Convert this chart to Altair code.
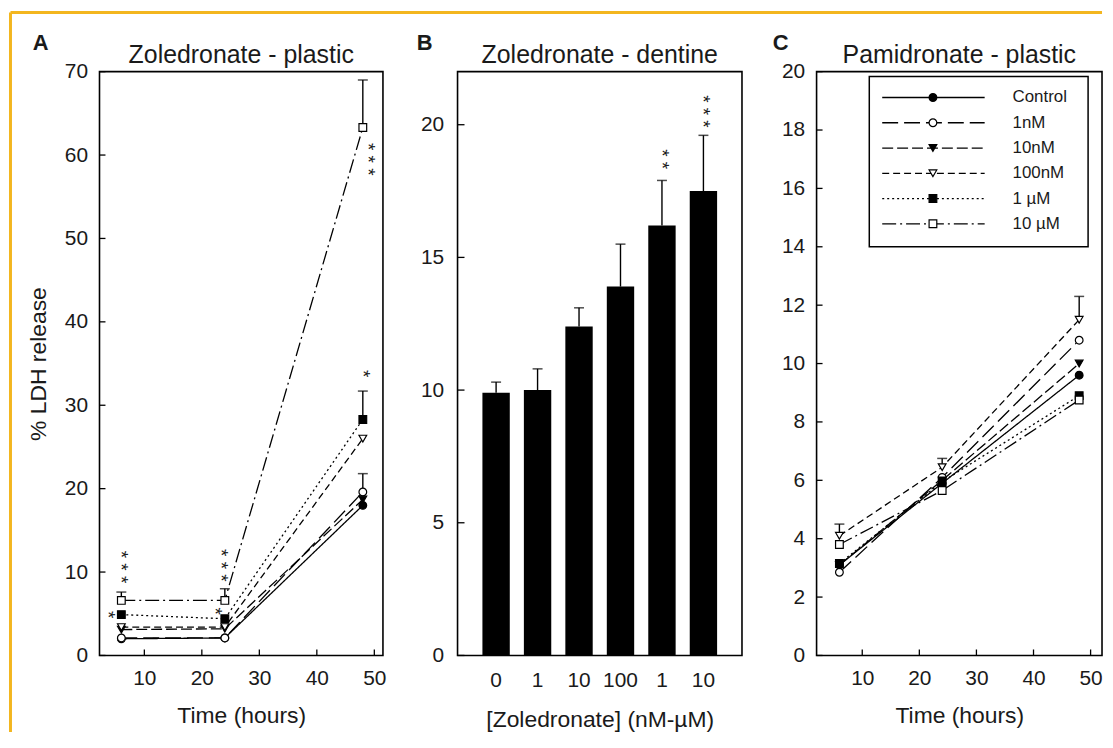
import altair as alt
import pandas as pd

FONT = "Liberation Sans"
TXT = "#1a1a1a"
ORANGE = "#F3B61F"

# ---------------- shared series definitions ----------------
TIMES = [6, 24, 48]
SERIES = ["Control", "1nM", "10nM", "100nM", "1uM", "10uM"]
LEGEND_LABELS = ["Control", "1nM", "10nM", "100nM", "1 µM", "10 µM"]
DASHES = [[1, 0], [16, 6], [11, 4], [7, 4], [2, 3], [14, 4, 2, 4]]
SHAPES = ["circle", "circle", "triangle-down", "triangle-down", "square", "square"]
FILLS = ["black", "white", "black", "white", "black", "white"]

# ---------------- Panel A : Zoledronate - plastic ----------------
A_CONTROL = [2.0, 2.1, 18.0]
A_1NM = [2.1, 2.1, 19.6]
A_10NM = [3.1, 3.2, 18.7]
A_100NM = [3.4, 3.4, 26.0]
A_1UM = [4.9, 4.4, 28.3]
A_10UM = [6.6, 6.6, 63.3]
A_ERR_SERIES = ["10uM", "10uM", "10uM", "1uM", "1nM"]
A_ERR_TIME = [6, 24, 48, 48, 48]
A_ERR_TOP = [7.6, 8.0, 69.0, 31.7, 21.8]
A_STAR_X = [6.0, 3.7, 23.4, 22.3, 48.9, 48.0]
A_STAR_Y = [10.6, 4.9, 10.8, 5.3, 59.5, 33.8]
A_STAR_T = ["* * *", "*", "* * *", "*", "* * *", "*"]
A_XTICKS = [10, 20, 30, 40, 50]
A_YTICKS = [0, 10, 20, 30, 40, 50, 60, 70]

# ---------------- Panel B : Zoledronate - dentine ----------------
B_LABELS = ["0", "1", "10", "100", "1", "10"]
B_VALUES = [9.9, 10.0, 12.4, 13.9, 16.2, 17.5]
B_ERR_TOP = [10.3, 10.8, 13.1, 15.5, 17.9, 19.6]
B_STAR_K = [4, 5]
B_STAR_Y = [18.7, 20.5]
B_STAR_T = ["* *", "* * *"]
B_YTICKS = [0, 5, 10, 15, 20]

# ---------------- Panel C : Pamidronate - plastic ----------------
C_CONTROL = [3.1, 5.9, 9.6]
C_1NM = [2.85, 6.1, 10.8]
C_10NM = [3.1, 6.0, 10.0]
C_100NM = [4.1, 6.45, 11.5]
C_1UM = [3.15, 5.95, 8.9]
C_10UM = [3.8, 5.65, 8.75]
C_ERR_SERIES = ["100nM", "100nM", "100nM"]
C_ERR_TIME = [6, 24, 48]
C_ERR_TOP = [4.5, 6.75, 12.3]
C_XTICKS = [10, 20, 30, 40, 50]
C_YTICKS = [0, 2, 4, 6, 8, 10, 12, 14, 16, 18, 20]

TITLES = ["Zoledronate - plastic", "Zoledronate - dentine", "Pamidronate - plastic"]
LETTERS = ["A", "B", "C"]

W_A, W_B, W_C = 285, 286, 287
H = 587


def long_df(cols):
    rows = []
    for s, vals in zip(SERIES, cols):
        for t, v in zip(TIMES, vals):
            rows.append({"series": s, "time": t, "value": v})
    return pd.DataFrame(rows)


def err_df(df, ser, tim, top):
    rows = []
    for s, t, e in zip(ser, tim, top):
        base = df[(df.series == s) & (df.time == t)].value.iloc[0]
        rows.append({"series": s, "time": t, "value": base, "top": e})
    return pd.DataFrame(rows)


dash_scale = alt.Scale(domain=SERIES, range=DASHES)
shape_scale = alt.Scale(domain=SERIES, range=SHAPES)
fill_scale = alt.Scale(domain=SERIES, range=FILLS)
one = pd.DataFrame({"k": [0]})


def header(title, letter, letter_dx, w):
    t = alt.Chart(pd.DataFrame({"l": [title]})).mark_text(
        font=FONT, fontSize=25, align="center", baseline="alphabetic", color=TXT).encode(
        text="l:N", x=alt.value(w / 2), y=alt.value(-9))
    l = alt.Chart(pd.DataFrame({"l": [letter]})).mark_text(
        font=FONT, fontSize=22, fontWeight="bold", align="left", baseline="alphabetic", color=TXT).encode(
        text="l:N", x=alt.value(letter_dx), y=alt.value(-22))
    return [t, l]


def line_panel(df, edf, xdom, ydom, yticks, xticks, ytitle):
    xs = alt.Scale(domain=xdom, nice=False, zero=False)
    ys = alt.Scale(domain=ydom, nice=False, zero=False)
    if ytitle:
        yaxis = alt.Axis(values=yticks, title=ytitle, labelPadding=12, titlePadding=14)
    else:
        yaxis = alt.Axis(values=yticks, title=None, labelPadding=12)
    base = alt.Chart(df)
    lines = base.mark_line(color="black", strokeWidth=1.3).encode(
        x=alt.X("time:Q", scale=xs, axis=alt.Axis(values=xticks, title="Time (hours)", labelPadding=12, titlePadding=16)),
        y=alt.Y("value:Q", scale=ys, axis=yaxis),
        strokeDash=alt.StrokeDash("series:N", scale=dash_scale, legend=None),
        detail="series:N",
    )
    stems = alt.Chart(edf).mark_rule(color="black", strokeWidth=1.4).encode(
        x="time:Q", y="value:Q", y2="top:Q")
    caps = alt.Chart(edf).mark_tick(color="black", orient="horizontal", size=10, thickness=1.5).encode(
        x="time:Q", y="top:Q")
    pts = base.mark_point(stroke="black", strokeWidth=1.2, opacity=1, fillOpacity=1, size=60).encode(
        x="time:Q", y="value:Q",
        shape=alt.Shape("series:N", scale=shape_scale, legend=None),
        fill=alt.Fill("series:N", scale=fill_scale, legend=None),
    )
    xt = alt.Chart(pd.DataFrame({"t": xticks})).mark_rule(color="black", strokeWidth=1.3).encode(
        x="t:Q", y=alt.value(H), y2=alt.value(H - 6))
    yt = alt.Chart(pd.DataFrame({"t": yticks})).mark_rule(color="black", strokeWidth=1.3).encode(
        y="t:Q", x=alt.value(0), x2=alt.value(6))
    return [lines, stems, caps, pts, xt, yt]


# ---- Panel A
dfA = long_df([A_CONTROL, A_1NM, A_10NM, A_100NM, A_1UM, A_10UM])
edfA = err_df(dfA, A_ERR_SERIES, A_ERR_TIME, A_ERR_TOP)
layersA = line_panel(dfA, edfA, [2.2, 51.5], [0, 70], A_YTICKS, A_XTICKS, "% LDH release")
starsA = alt.Chart(pd.DataFrame({"x": A_STAR_X, "y": A_STAR_Y, "t": A_STAR_T})).mark_text(
    font=FONT, fontSize=19, angle=90, color=TXT, align="center", baseline="middle").encode(
    x="x:Q", y="y:Q", text="t:N")
borderV = alt.Chart(one).mark_rule(color=ORANGE, strokeWidth=3, clip=False).encode(
    x=alt.value(-89.5), y=alt.value(-59.5), y2=alt.value(664))
borderH = alt.Chart(one).mark_rule(color=ORANGE, strokeWidth=3, clip=False).encode(
    x=alt.value(-89.5), x2=alt.value(1008), y=alt.value(-59.5))
panelA = alt.layer(*layersA, starsA, *header(TITLES[0], LETTERS[0], -67, W_A), borderV, borderH).properties(
    width=W_A, height=H)

# ---- Panel B
dfB = pd.DataFrame({"k": list(range(len(B_VALUES))), "value": B_VALUES, "top": B_ERR_TOP})
label_expr = "[" + ",".join("'%s'" % l for l in B_LABELS) + "][datum.value]"
xB = alt.X("k:O", scale=alt.Scale(paddingInner=0.34, paddingOuter=0.6),
           axis=alt.Axis(labelExpr=label_expr, labelAngle=0, title="[Zoledronate] (nM-µM)",
                         labelPadding=14, titlePadding=18))
yB = alt.Scale(domain=[0, 22], nice=False)
bars = alt.Chart(dfB).mark_bar(color="black").encode(
    x=xB, y=alt.Y("value:Q", scale=yB, axis=alt.Axis(values=B_YTICKS, title=None, labelPadding=14)))
stemB = alt.Chart(dfB).mark_rule(color="black", strokeWidth=1.4).encode(x="k:O", y="value:Q", y2="top:Q")
capB = alt.Chart(dfB).mark_tick(color="black", orient="horizontal", size=10, thickness=1.5).encode(
    x="k:O", y="top:Q")
starsB = alt.Chart(pd.DataFrame({"k": B_STAR_K, "y": B_STAR_Y, "t": B_STAR_T})).mark_text(
    font=FONT, fontSize=19, angle=90, color=TXT, align="center", baseline="middle").encode(
    x="k:O", y="y:Q", text="t:N")
ytB = alt.Chart(pd.DataFrame({"t": B_YTICKS})).mark_rule(color="black", strokeWidth=1.3).encode(
    y="t:Q", x=alt.value(0), x2=alt.value(7))
panelB = alt.layer(bars, stemB, capB, starsB, ytB, *header(TITLES[1], LETTERS[1], -41, W_B)).properties(
    width=W_B, height=H)

# ---- Panel C
dfC = long_df([C_CONTROL, C_1NM, C_10NM, C_100NM, C_1UM, C_10UM])
edfC = err_df(dfC, C_ERR_SERIES, C_ERR_TIME, C_ERR_TOP)
layersC = line_panel(dfC, edfC, [2.0, 52.0], [0, 20], C_YTICKS, C_XTICKS, None)
# legend (box + rows); rows placed in the panel's data units
legdf = pd.DataFrame({"series": SERIES, "label": LEGEND_LABELS, "i": list(range(len(SERIES)))})
legbase = alt.Chart(legdf).transform_calculate(ly="20 - (26 + 25.4 * datum.i) * 20 / %d" % H)
legbox = alt.Chart(one).mark_rect(fill="white", stroke="black", strokeWidth=1.5).encode(
    x=alt.value(53), x2=alt.value(273), y=alt.value(5), y2=alt.value(176))
legline = legbase.mark_rule(color="black", strokeWidth=1.3).encode(
    x=alt.value(66), x2=alt.value(169), y="ly:Q",
    strokeDash=alt.StrokeDash("series:N", scale=dash_scale, legend=None))
legpt = legbase.mark_point(stroke="black", strokeWidth=1.2, opacity=1, fillOpacity=1, size=60).encode(
    x=alt.value(117), y="ly:Q",
    shape=alt.Shape("series:N", scale=shape_scale, legend=None),
    fill=alt.Fill("series:N", scale=fill_scale, legend=None))
legtxt = legbase.mark_text(font=FONT, fontSize=17, align="left", baseline="middle", color=TXT).encode(
    x=alt.value(197), y="ly:Q", text="label:N")
panelC = alt.layer(*layersC, legbox, legline, legpt, legtxt, *header(TITLES[2], LETTERS[2], -44, W_C)).properties(
    width=W_C, height=H)

chart = alt.hconcat(panelA, panelB, panelC, spacing=75, bounds="flush").properties(
    padding=0, background="white"
).configure_view(stroke="black", strokeWidth=1.6).configure_axis(
    labelFont=FONT, labelFontSize=21, labelColor=TXT, titleFont=FONT, titleFontSize=23,
    titleFontWeight="normal", titleColor=TXT, ticks=False, domain=False, grid=False
)

chart.save("out.html", embed_options={"renderer": "svg", "actions": False})
